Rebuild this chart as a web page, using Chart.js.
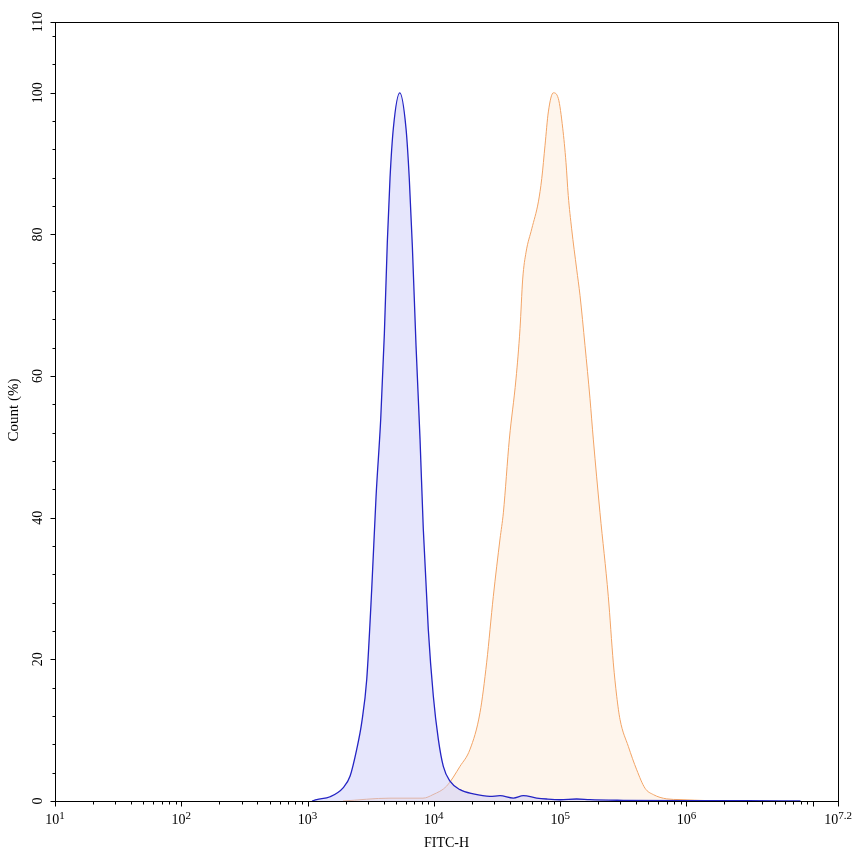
<!DOCTYPE html>
<html>
<head>
<meta charset="utf-8">
<script src="https://cdn.jsdelivr.net/npm/chart.js@4.4.1/dist/chart.umd.min.js"></script>
<style>
  html, body { margin: 0; padding: 0; background: #fff; }
  #wrap { width: 853px; height: 856px; position: relative; }
</style>
</head>
<body>
<div id="wrap"><canvas id="histChart"></canvas></div>
<script>
// Control peak (blue)
const controlFitc = [1084, 1181, 1507, 1919, 2168, 2449, 2685, 2941, 3222, 3485, 3796, 4055, 4281, 4497, 4777, 5370,
  6016, 6387, 6752, 7223, 7770, 8247, 9036, 9903, 10850, 11880, 13420, 16110, 20530, 27800, 33400, 42600,
  51100, 65200, 78200, 99800, 135000, 172000, 316000, 1000000, 3000000, 8000000];
const controlCount = [0, 0.2, 0.6, 1.9, 3.5, 7.3, 11.1, 17.2, 30, 43, 54, 66, 79, 88, 95.0, 100,
  95.0, 87.9, 78.4, 64.3, 51.1, 38.4, 24.2, 14.8, 8.7, 4.9, 2.8, 1.6, 1.0, 0.65, 0.75, 0.42,
  0.75, 0.42, 0.28, 0.18, 0.28, 0.18, 0.1, 0.05, 0.05, 0];

// Stained peak (orange)
const stainedFitc = [1905, 4497, 8200, 9840, 12620, 16110, 19330, 23200, 26200, 29560, 33400, 35500, 39600, 44700,
  48100, 50500, 53700, 59600, 67200, 71500, 75900, 80600, 88300, 96700, 104800, 111200, 115900, 123300,
  135100, 143600, 157300, 172300, 183000, 206700, 240500, 263600, 280400, 297900, 346700, 403900, 470000,
  547000, 698000, 889000, 1500000, 3000000];
const stainedCount = [0, 0.4, 0.4, 0.9, 2.1, 4.9, 7.3, 12.5, 19.6, 28.9, 37.0, 40.7, 51.1, 59.6,
  66.7, 73.7, 77.5, 80.8, 84.6, 87.9, 92.6, 97.3, 100, 99.2, 95.0, 90.2, 85.5, 80.8,
  75.1, 71.4, 64.3, 56.8, 51.1, 40.7, 28.9, 19.5, 14.8, 11.5, 7.7, 4.4, 1.8,
  0.9, 0.3, 0.2, 0.05, 0];

// Axis ticks (10^7 gets a tick but no label)
const xLabelExponents = [1, 2, 3, 4, 5, 6, 7.2];
const xMin = 10, xMax = Math.pow(10, 7.2);
const yLabels = [0, 20, 40, 60, 80, 100, 110];
const yMinorStep = 4;
const xTitle = "FITC-H";
const yTitle = "Count (%)";

function toPoints(xs, ys) {
  return xs.map((x, i) => ({ x: x, y: ys[i] }));
}

const serif = '"Liberation Serif", "DejaVu Serif", serif';

// draws frame, ticks, labels and titles from the chart's own scales
const axisPainter = {
  id: "axisPainter",
  afterDraw(chart) {
    const ctx = chart.ctx;
    const area = chart.chartArea;
    const xs = chart.scales.x;
    const ys = chart.scales.y;
    ctx.save();
    ctx.strokeStyle = "#000";
    ctx.lineWidth = 1;
    ctx.strokeRect(Math.round(area.left) + 0.5, Math.round(area.top) + 0.5,
      Math.round(area.right - area.left), Math.round(area.bottom - area.top));

    // x ticks
    ctx.beginPath();
    const yb = Math.round(area.bottom) + 0.5;
    for (let e = 1; e <= 7; e++) {
      for (let m = 1; m <= 9; m++) {
        const v = m * Math.pow(10, e);
        if (v > xMax) break;
        const px = Math.round(xs.getPixelForValue(v)) + 0.5;
        const len = m === 1 ? 5 : 3;
        ctx.moveTo(px, yb);
        ctx.lineTo(px, yb + len);
      }
    }
    const pxEnd = Math.round(xs.getPixelForValue(xMax)) + 0.5;
    ctx.moveTo(pxEnd, yb);
    ctx.lineTo(pxEnd, yb + 5);
    ctx.stroke();

    // x labels: 10 with superscript exponent
    ctx.fillStyle = "#000";
    ctx.textBaseline = "alphabetic";
    ctx.textAlign = "left";
    xLabelExponents.forEach(e => {
      const px = xs.getPixelForValue(Math.pow(10, e));
      ctx.font = "14px " + serif;
      const wBase = ctx.measureText("10").width;
      ctx.font = "11px " + serif;
      const sup = String(e);
      const wSup = ctx.measureText(sup).width;
      const start = px - (wBase + wSup) / 2;
      ctx.font = "14px " + serif;
      ctx.fillText("10", start, 824);
      ctx.font = "11px " + serif;
      ctx.fillText(sup, start + wBase, 819);
    });

    // y ticks
    ctx.beginPath();
    const xl = Math.round(area.left) + 0.5;
    for (let v = 0; v <= ys.max; v += yMinorStep) {
      const py = Math.round(ys.getPixelForValue(v)) + 0.5;
      const len = v % 20 === 0 ? 5 : 3;
      ctx.moveTo(xl, py);
      ctx.lineTo(xl - len, py);
    }
    const pyTop = Math.round(ys.getPixelForValue(110)) + 0.5;
    ctx.moveTo(xl, pyTop);
    ctx.lineTo(xl - 5, pyTop);
    ctx.stroke();

    // y labels, rotated
    ctx.font = "14px " + serif;
    ctx.textAlign = "center";
    ctx.textBaseline = "middle";
    yLabels.forEach(v => {
      const py = ys.getPixelForValue(v);
      ctx.save();
      ctx.translate(38, py);
      ctx.rotate(-Math.PI / 2);
      ctx.fillText(String(v), 0, 0);
      ctx.restore();
    });

    // titles
    ctx.font = "14px " + serif;
    ctx.fillText(xTitle, (area.left + area.right) / 2, 843);
    ctx.save();
    ctx.font = "15px " + serif;
    ctx.translate(14, 410);
    ctx.rotate(-Math.PI / 2);
    ctx.fillText(yTitle, 0, 0);
    ctx.restore();
    ctx.restore();
  }
};

const ctxHist = document.getElementById("histChart").getContext("2d");
new Chart(ctxHist, {
  type: "line",
  data: {
    datasets: [{
      label: "Control",
      data: toPoints(controlFitc, controlCount),
      borderColor: "#2424c4",
      backgroundColor: "rgba(200, 200, 248, 0.45)",
      borderWidth: 1.3,
      fill: "origin",
      pointRadius: 0,
      cubicInterpolationMode: "monotone"
    }, {
      label: "Stained",
      data: toPoints(stainedFitc, stainedCount),
      borderColor: "#f2a466",
      backgroundColor: "rgba(253, 235, 217, 0.5)",
      borderWidth: 1,
      fill: "origin",
      pointRadius: 0,
      cubicInterpolationMode: "monotone"
    }]
  },
  options: {
    responsive: true,
    maintainAspectRatio: false,
    animation: false,
    layout: { padding: { left: 55, right: 15, top: 22, bottom: 55 } },
    plugins: {
      legend: { display: false },
      tooltip: { enabled: false }
    },
    scales: {
      x: { type: "logarithmic", min: xMin, max: xMax, display: false },
      y: { type: "linear", min: 0, max: 110, display: false }
    }
  },
  plugins: [axisPainter]
});
</script>
</body>
</html>
